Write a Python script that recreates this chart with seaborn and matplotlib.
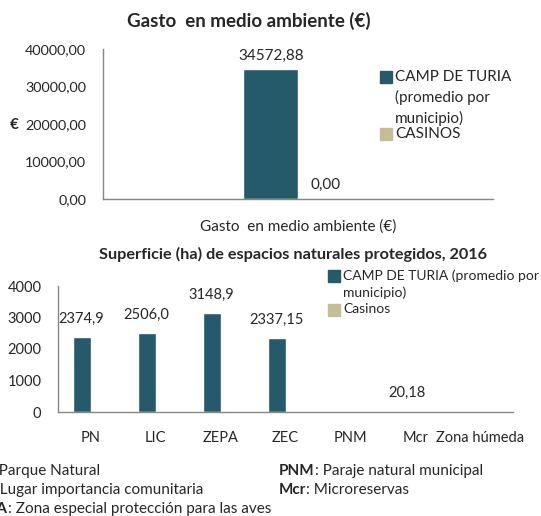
import pandas as pd
import matplotlib
matplotlib.use("Agg")
import matplotlib.pyplot as plt
import matplotlib.patches as mpatches
import numpy as np
import seaborn as sns

sns.set_style("white")
plt.rcParams['font.family'] = ['Lato', 'DejaVu Sans']

# ----------------------------------------------------------------------
# Datos
series = ["CAMP DE TURIA", "CASINOS"]
colores = ["#245A69", "#C6BD96"]

# Grafico 1: gasto en medio ambiente
gasto_categoria = ["Gasto  en medio ambiente (€)"]
gasto_camp = [34572.88]
gasto_casinos = [0.00]

# Grafico 2: superficie de espacios naturales protegidos
espacios = ["PN", "LIC", "ZEPA", "ZEC", "PNM", "Mcr", "Zona húmeda"]
sup_camp = [2374.9, 2506.0, 3148.9, 2337.15, np.nan, 20.18, np.nan]
sup_casinos = [np.nan, np.nan, np.nan, np.nan, np.nan, np.nan, np.nan]

notas_izq = [("PN", ": Parque Natural"),
             ("LIC", ": Lugar importancia comunitaria"),
             ("ZEPA", ": Zona especial protección para las aves")]
notas_der = [("PNM", ": Paraje natural municipal"),
             ("Mcr", ": Microreservas")]

# ----------------------------------------------------------------------
W, H = 541, 516
GRIS = "#868686"


def fx(x):
    return x / W


def fy(y):
    return 1 - y / H


def coma(v, dec=2):
    return f"{v:.{dec}f}".replace(".", ",")


def coma_corta(v):
    s = f"{v:.2f}".rstrip("0")
    if s.endswith("."):
        s += "0"
    return s.replace(".", ",")


def estilo_ejes(ax):
    sns.despine(ax=ax)
    for lado in ["left", "bottom"]:
        ax.spines[lado].set_color(GRIS)
        ax.spines[lado].set_linewidth(1)
    ax.tick_params(axis="y", which="major", length=4, color=GRIS, width=1, pad=8)
    ax.tick_params(axis="x", which="major", length=0)
    ax.tick_params(axis="x", which="minor", length=4, color=GRIS, width=1)
    ax.set_xlabel("")
    ax.set_ylabel("")


def leyenda(fig, x, y, textos, salto, fs):
    # cuadros de leyenda a mano (x, y en pixeles)
    yy = y
    for txt, col in zip(textos, colores):
        fig.patches.append(mpatches.Rectangle((fx(x), fy(yy + 6)), 12 / W, 12 / H,
                                              transform=fig.transFigure,
                                              color=col, figure=fig))
        fig.text(fx(x + 15), fy(yy - 7), txt, fontsize=fs, va="top", ha="left",
                 linespacing=1.5)
        yy += salto * (txt.count("\n") + 1)


fig = plt.figure(figsize=(W / 100, H / 100), dpi=100)

# ---------------------------- Grafico 1 -------------------------------
df1 = pd.DataFrame({
    "categoria": gasto_categoria * 2,
    "serie": [series[0]] * len(gasto_camp) + [series[1]] * len(gasto_casinos),
    "valor": gasto_camp + gasto_casinos,
})

ax1 = fig.add_axes([fx(103), fy(199), 390 / W, 150 / H])
sns.barplot(data=df1, x="categoria", y="valor", hue="serie", hue_order=series,
            palette=colores, width=0.28, gap=0, saturation=1, legend=False, ax=ax1)
ax1.set_xlim(-0.5, 0.5)
ax1.set_ylim(0, 40000)
ax1.set_yticks(np.arange(0, 40001, 10000))
ax1.set_yticklabels([coma(v) for v in np.arange(0, 40001, 10000)], fontsize=10.4)
ax1.set_xticks([-0.5, 0.5], minor=True)
ax1.tick_params(axis="x", labelsize=11, pad=15)
estilo_ejes(ax1)
for cont in ax1.containers:
    ax1.bar_label(cont, labels=[coma(v) for v in cont.datavalues], padding=5, fontsize=11)

fig.text(fx(249), fy(21), "Gasto  en medio ambiente (€)", fontsize=13.5,
         fontweight="bold", ha="center", va="center")
fig.text(fx(14), fy(125), "€", fontsize=11, fontweight="bold", ha="center", va="center")

leyenda(fig, 380, 77, ["CAMP DE TURIA\n(promedio por\nmunicipio)", "CASINOS"], 19, 11)

# ---------------------------- Grafico 2 -------------------------------
df2 = pd.DataFrame({
    "espacio": espacios * 2,
    "serie": [series[0]] * len(sup_camp) + [series[1]] * len(sup_casinos),
    "valor": sup_camp + sup_casinos,
})

ax2 = fig.add_axes([fx(58), fy(412), 455 / W, 126 / H])
sns.barplot(data=df2, x="espacio", y="valor", hue="serie", hue_order=series,
            palette=colores, width=0.55, gap=0, saturation=1, legend=False, ax=ax2)
ax2.set_xlim(-0.5, len(espacios) - 0.5)
ax2.set_ylim(0, 4000)
ax2.set_yticks(np.arange(0, 4001, 1000))
ax2.tick_params(axis="y", labelsize=10.5)
ax2.set_xticks(np.arange(-0.5, len(espacios)), minor=True)
ax2.tick_params(axis="x", labelsize=10.5, pad=14)
estilo_ejes(ax2)
cont = ax2.containers[0]
ax2.bar_label(cont, labels=["" if np.isnan(v) else coma_corta(v) for v in cont.datavalues],
              padding=8, fontsize=10.5)

fig.text(fx(293), fy(254), "Superficie (ha) de espacios naturales protegidos, 2016",
         fontsize=11.7, fontweight="bold", ha="center", va="center")

leyenda(fig, 328, 276, ["CAMP DE TURIA (promedio por\nmunicipio)", "Casinos"], 17, 10)


# ---------------------------- Notas -----------------------------------
def nota(x, y, negrita, resto):
    t = fig.text(fx(x), fy(y), negrita, fontsize=11, fontweight="bold",
                 ha="left", va="center")
    ax2.annotate(resto, xy=(1, 0.5), xycoords=t, fontsize=11,
                 ha="left", va="center", annotation_clip=False)


for i, (b, r) in enumerate(notas_izq):
    nota(-30, 471 + 19 * i, b, r)
for i, (b, r) in enumerate(notas_der):
    nota(279, 471 + 19 * i, b, r)

fig.savefig("out.png", dpi=100)
